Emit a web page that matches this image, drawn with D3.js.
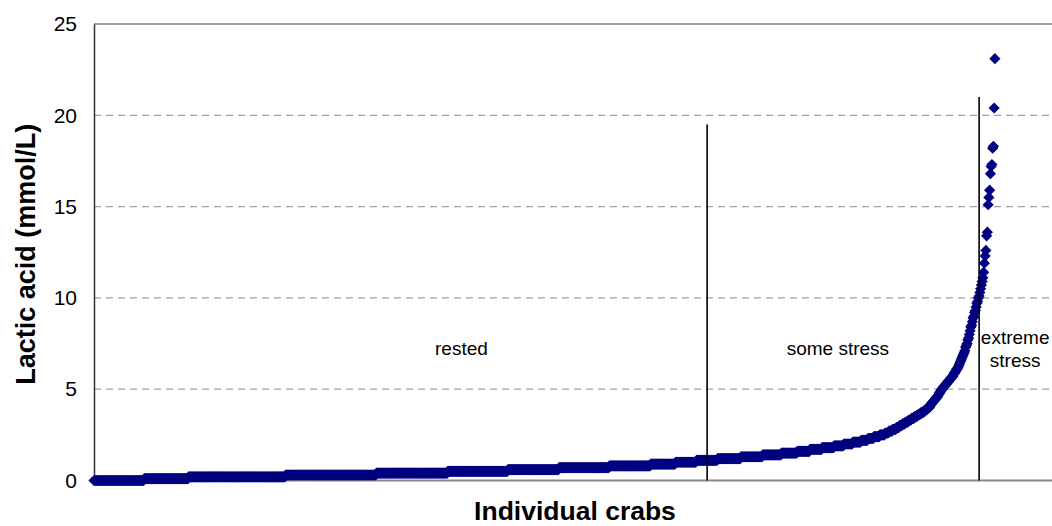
<!DOCTYPE html>
<html>
<head>
<meta charset="utf-8">
<script src="https://cdn.jsdelivr.net/npm/d3@7/dist/d3.min.js"></script>
<style>
  html, body { margin: 0; padding: 0; background: #fff; }
  svg { display: block; }
  text { font-family: Arial, "Liberation Sans", sans-serif; fill: #000; }
</style>
</head>
<body>
<svg id="chart" width="1052" height="526"></svg>
<script>
// ---- Data ----
// Sorted lactic acid values, written as a frequency table for the bulk of crabs...
const lactateLevels = [0.0, 0.1, 0.2, 0.3, 0.4, 0.5, 0.6, 0.7, 0.8, 0.9,
                       1.0, 1.1, 1.2, 1.3, 1.4, 1.5, 1.6, 1.7, 1.8, 1.9,
                       2.0, 2.1, 2.2, 2.3, 2.4, 2.5, 2.6, 2.7, 2.8, 2.9,
                       3.0, 3.1, 3.2, 3.3, 3.4, 3.5, 3.6, 3.7, 3.8, 3.9, 4.0];
const crabsAtLevel  = [67, 59, 129, 121, 95, 80, 68, 67, 55, 33,
                       28, 28, 31, 29, 25, 21, 17, 16, 16, 13,
                       12, 11, 9, 8, 8, 7, 5, 5, 5, 4,
                       4, 4, 4, 4, 4, 4, 4, 4, 3, 3, 3];
// ...and the highest crabs listed one by one (sorted)
const highestCrabs = [4.1, 4.2, 4.2, 4.3, 4.3, 4.4, 4.4, 4.5, 4.5, 4.6, 4.6, 4.7, 4.8, 4.8, 4.9, 5.0,
                      5.0, 5.1, 5.1, 5.2, 5.2, 5.3, 5.3, 5.4, 5.4, 5.5, 5.5, 5.6, 5.6,
                      5.7, 5.7, 5.8, 5.9, 5.9, 6.0, 6.1, 6.1, 6.2, 6.3, 6.4, 6.5, 6.6,
                      6.7, 6.8, 6.9, 7.0, 7.1, 7.3, 7.4, 7.5, 7.7, 7.8, 8.0, 8.2, 8.4,
                      8.5, 8.7, 8.9, 9.0, 9.2, 9.3, 9.5, 9.7, 9.8, 10.0, 10.1, 10.3, 10.5, 10.7, 10.9, 11.1,
                      11.4, 11.9, 12.3, 12.6, 13.4, 13.6, 15.1, 15.5, 15.9, 16.8, 17.2, 17.3, 18.2, 18.3, 20.4, 23.1];
// Group dividers (crab index where the line is drawn, and top of line in mmol/L)
const dividerCrab = [816, 1178];
const dividerTop  = [19.5, 21.0];
// Group labels
const groupLabels = [["rested"], ["some stress"], ["extreme", "stress"]];
const groupLabelCrab = [489, 990, 1226];
const groupLabelValue = [6.9, 6.9, 7.5];
// Axis
const yTicks = [0, 5, 10, 15, 20, 25];
const yMax = 25;
const xMax = 1275;
const yTitle = "Lactic acid (mmol/L)";
const xTitle = "Individual crabs";

// ---- Build series ----
const values = lactateLevels.flatMap((v, i) => Array(crabsAtLevel[i]).fill(v)).concat(highestCrabs);
const points = values.map((v, i) => ({ i, v }));

// ---- Layout ----
const svg = d3.select("#chart");
const padL = 94, padR = 1052, padT = 24, padB = 480.5;

const x = d3.scaleLinear().domain([0, xMax]).range([padL, padR]);
const y = d3.scaleLinear().domain([0, yMax]).range([padB, padT]);

// gridlines
svg.append("g")
  .selectAll("line")
  .data(yTicks.filter(t => t > 0 && t < yMax))
  .join("line")
  .attr("x1", padL).attr("x2", padR)
  .attr("y1", d => y(d)).attr("y2", d => y(d))
  .attr("stroke", "#a0a0a0")
  .attr("stroke-width", 1.3)
  .attr("stroke-dasharray", "7,5");

// top border
svg.append("line")
  .attr("x1", padL).attr("x2", padR)
  .attr("y1", y(yMax)).attr("y2", y(yMax))
  .attr("stroke", "#808080").attr("stroke-width", 1.5);

// y axis
const yAxis = d3.axisLeft(y).tickValues(yTicks).tickSize(0).tickPadding(17).tickFormat(d3.format("d"));
const gy = svg.append("g").attr("transform", `translate(${padL},0)`).call(yAxis);
gy.select(".domain").attr("stroke", "#333").attr("stroke-width", 1.5);
gy.selectAll("text").style("font-size", "21px").attr("fill", "#000");

// x axis (no ticks)
svg.append("line")
  .attr("x1", padL).attr("x2", padR)
  .attr("y1", padB).attr("y2", padB)
  .attr("stroke", "#8a8a8a").attr("stroke-width", 2);

// points (diamonds)
const r = 5.6;
svg.append("g")
  .selectAll("path")
  .data(points)
  .join("path")
  .attr("d", `M0,${-r}L${r},0L0,${r}L${-r},0Z`)
  .attr("transform", d => `translate(${x(d.i)},${y(d.v)})`)
  .attr("fill", "#000080");

// dividers
svg.append("g")
  .selectAll("line")
  .data(dividerCrab)
  .join("line")
  .attr("x1", d => x(d)).attr("x2", d => x(d))
  .attr("y1", (d, i) => y(dividerTop[i])).attr("y2", padB)
  .attr("stroke", "#000").attr("stroke-width", 1.6);

// group labels
groupLabels.forEach((lines, k) => {
  const t = svg.append("text")
    .attr("x", x(groupLabelCrab[k]))
    .attr("y", y(groupLabelValue[k]))
    .attr("text-anchor", "middle")
    .style("font-size", "19px");
  lines.forEach((ln, j) => {
    t.append("tspan").attr("x", x(groupLabelCrab[k])).attr("dy", j === 0 ? 0 : 23).text(ln);
  });
});

// axis titles
svg.append("text")
  .attr("transform", `translate(35,${(padT + padB) / 2 + 2}) rotate(-90)`)
  .attr("text-anchor", "middle")
  .style("font-size", "27px").style("font-weight", "bold")
  .text(yTitle);

svg.append("text")
  .attr("x", (padL + padR) / 2 + 2)
  .attr("y", 520)
  .attr("text-anchor", "middle")
  .style("font-size", "26.5px").style("font-weight", "bold")
  .text(xTitle);
</script>
</body>
</html>
